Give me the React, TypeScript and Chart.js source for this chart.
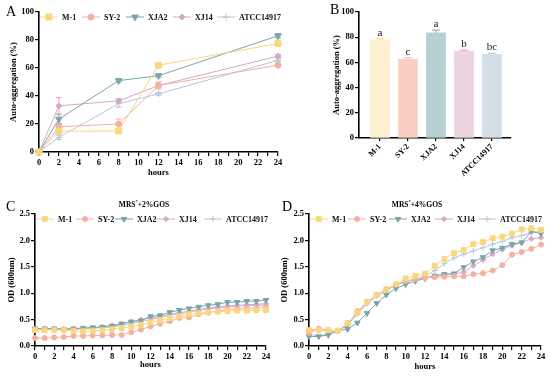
import React, { useEffect, useRef } from 'react';
import { Chart, registerables } from 'chart.js';
import { drawPoint } from 'chart.js/helpers';

Chart.register(...registerables);

const FONT = '"Liberation Serif", "Times New Roman", serif';

// ---------- data ----------
const SERIES = ['M-1', 'SY-2', 'XJA2', 'XJ14', 'ATCC14917'];
const COLORS = ['#F9D77E', '#F2B1A1', '#78A6AC', '#D9A7C5', '#B6C8DA'];
const BAR_COLORS = ['#FDF0D0', '#F7CEC1', '#B7D0D2', '#ECD3E0', '#D4DEE7'];
const POINT_STYLES = ['rect', 'circle', 'triangle', 'rectRot', 'cross'];
const POINT_ROT = [0, 0, 180, 0, 0];

// Panel A: auto-aggregation over time
const hoursA = [0, 2, 8, 12, 24];
const aggM1 = [0, 14.8, 15, 62, 77.5];
const aggSY2 = [0, 18, 20, 47.5, 62];
const aggXJA2 = [0, 23.5, 51, 54.5, 83];
const aggXJ14 = [0, 33, 36.5, 47.5, 68.5];
const aggATCC = [0, 10.5, 34.5, 41.5, 65.5];
const errM1 = [0, 1.5, 1, 1, 1];
const errSY2 = [0, 2, 3.5, 2.5, 1];
const errXJA2 = [0, 3.5, 1, 1, 1.5];
const errXJ14 = [0, 6, 1.5, 1.5, 1];
const errATCC = [0, 1.5, 2.5, 1, 1];
const yTicksA = [0, 20, 40, 60, 80, 100];

// Panel B: auto-aggregation at 24 h
const barValues = [78, 62.5, 83.5, 69, 66.5];
const barErrors = [0.8, 1.2, 2.2, 0.8, 0.8];
const barLetters = ['a', 'c', 'a', 'b', 'bc'];

// Panels C & D: growth curves
const hoursCD = [0, 1, 2, 3, 4, 5, 6, 7, 8, 9, 10, 11, 12, 13, 14, 15, 16, 17, 18, 19, 20, 21, 22, 23, 24];
const odC_M1 = [0.30, 0.30, 0.30, 0.30, 0.29, 0.28, 0.29, 0.30, 0.32, 0.34, 0.37, 0.40, 0.45, 0.49, 0.53, 0.56, 0.60, 0.62, 0.64, 0.65, 0.66, 0.67, 0.67, 0.68, 0.68];
const odC_SY2 = [0.15, 0.15, 0.16, 0.17, 0.19, 0.19, 0.20, 0.20, 0.21, 0.21, 0.26, 0.31, 0.37, 0.42, 0.47, 0.53, 0.54, 0.60, 0.63, 0.66, 0.69, 0.70, 0.71, 0.72, 0.73];
const odC_XJA2 = [0.33, 0.33, 0.33, 0.32, 0.33, 0.34, 0.35, 0.36, 0.38, 0.42, 0.46, 0.48, 0.56, 0.58, 0.64, 0.68, 0.71, 0.74, 0.77, 0.79, 0.83, 0.83, 0.85, 0.85, 0.87];
const odC_XJ14 = [0.32, 0.32, 0.32, 0.32, 0.32, 0.33, 0.34, 0.36, 0.39, 0.42, 0.46, 0.50, 0.53, 0.56, 0.60, 0.63, 0.66, 0.69, 0.72, 0.74, 0.76, 0.77, 0.78, 0.79, 0.80];
const odC_ATCC = [0.33, 0.33, 0.32, 0.32, 0.32, 0.33, 0.34, 0.35, 0.36, 0.39, 0.42, 0.46, 0.50, 0.54, 0.58, 0.61, 0.64, 0.67, 0.70, 0.72, 0.74, 0.75, 0.76, 0.77, 0.77];

const odD_M1 = [0.30, 0.30, 0.30, 0.29, 0.44, 0.63, 0.83, 0.97, 1.08, 1.17, 1.28, 1.33, 1.37, 1.52, 1.65, 1.76, 1.82, 1.93, 1.97, 2.04, 2.07, 2.13, 2.21, 2.23, 2.20];
const odD_SY2 = [0.24, 0.33, 0.30, 0.29, 0.42, 0.66, 0.84, 0.96, 1.07, 1.16, 1.23, 1.27, 1.29, 1.30, 1.31, 1.32, 1.32, 1.36, 1.38, 1.43, 1.53, 1.73, 1.78, 1.84, 1.92];
const odD_XJA2 = [0.18, 0.18, 0.21, 0.29, 0.32, 0.44, 0.62, 0.81, 0.97, 1.09, 1.17, 1.23, 1.28, 1.33, 1.36, 1.37, 1.49, 1.60, 1.68, 1.81, 1.86, 1.93, 1.96, 2.17, 2.13];
const odD_XJ14 = [0.30, 0.32, 0.27, 0.29, 0.40, 0.62, 0.82, 0.96, 1.07, 1.15, 1.22, 1.26, 1.29, 1.32, 1.34, 1.36, 1.40, 1.52, 1.63, 1.74, 1.83, 1.90, 1.96, 2.03, 2.05];
const odD_ATCC = [0.21, 0.20, 0.22, 0.29, 0.40, 0.60, 0.80, 0.94, 1.06, 1.15, 1.22, 1.27, 1.32, 1.43, 1.56, 1.67, 1.74, 1.80, 1.86, 1.93, 1.98, 2.05, 2.09, 2.15, 2.18];

const TITLE_C = ['MRS', '*', '+2%GOS'];
const TITLE_D = ['MRS', '*', '+4%GOS'];

// ---------- plugins ----------
const lineLegend = {
  id: 'lineLegend',
  afterDraw(chart: any, _a: any, opts: any) {
    if (!opts || !opts.xs) return;
    const ctx = chart.ctx;
    ctx.save();
    chart.data.datasets.forEach((ds: any, i: number) => {
      const mx = opts.xs[i];
      const y = opts.y;
      ctx.strokeStyle = ds.borderColor;
      ctx.lineWidth = 1;
      ctx.beginPath();
      ctx.moveTo(mx - 9, y);
      ctx.lineTo(mx + 9, y);
      ctx.stroke();
      ctx.fillStyle = ds.pointBackgroundColor;
      ctx.strokeStyle = ds.pointBorderColor;
      ctx.lineWidth = 1;
      drawPoint(ctx, { pointStyle: ds.pointStyle, rotation: ds.pointRotation || 0, radius: ds.pointRadius, borderWidth: 1 } as any, mx, y);
      ctx.font = `bold ${opts.size}px ${FONT}`;
      ctx.textBaseline = 'middle';
      ctx.textAlign = 'left';
      ctx.fillStyle = '#111';
      ctx.fillText(ds.label, mx + 13, y + 0.5);
    });
    ctx.restore();
  },
};

const errorBars = {
  id: 'errorBars',
  beforeDatasetsDraw(chart: any, _a: any, opts: any) {
    if (!opts || !opts.errors) return;
    const ys = chart.scales.y;
    const ctx = chart.ctx;
    ctx.save();
    chart.data.datasets.forEach((ds: any, i: number) => {
      const errs = opts.errors[i];
      if (!errs) return;
      const meta = chart.getDatasetMeta(i);
      ctx.strokeStyle = ds.borderColor;
      ctx.lineWidth = 1;
      meta.data.forEach((pt: any, j: number) => {
        const e = errs[j];
        if (!e) return;
        const d = ds.data[j];
        const v = typeof d === 'number' ? d : d.y;
        const top = ys.getPixelForValue(v + e);
        const bot = ys.getPixelForValue(v - e);
        ctx.beginPath();
        ctx.moveTo(pt.x, top);
        ctx.lineTo(pt.x, bot);
        ctx.moveTo(pt.x - 3, top);
        ctx.lineTo(pt.x + 3, top);
        ctx.moveTo(pt.x - 3, bot);
        ctx.lineTo(pt.x + 3, bot);
        ctx.stroke();
      });
    });
    ctx.restore();
  },
};

const panelText = {
  id: 'panelText',
  afterDraw(chart: any, _a: any, opts: any) {
    if (!opts) return;
    const ctx = chart.ctx;
    ctx.save();
    ctx.fillStyle = '#000';
    ctx.textAlign = 'left';
    ctx.textBaseline = 'alphabetic';
    if (opts.letter) {
      ctx.font = `14px ${FONT}`;
      ctx.fillText(opts.letter, opts.lx, opts.ly);
    }
    if (opts.title) {
      const [a, sup, b] = opts.title;
      const big = `bold ${opts.ts}px ${FONT}`;
      const small = `bold ${opts.ts * 0.6}px ${FONT}`;
      ctx.font = big;
      const wa = ctx.measureText(a).width;
      const wb = ctx.measureText(b).width;
      ctx.font = small;
      const ws = ctx.measureText(sup).width;
      const start = opts.tx - (wa + ws + wb) / 2;
      ctx.font = big;
      ctx.fillText(a, start, opts.ty);
      ctx.fillText(b, start + wa + ws, opts.ty);
      ctx.font = small;
      ctx.fillText(sup, start + wa, opts.ty - 4);
    }
    ctx.restore();
  },
};

const barExtras = {
  id: 'barExtras',
  afterDatasetsDraw(chart: any, _a: any, opts: any) {
    if (!opts || !opts.errors) return;
    const meta = chart.getDatasetMeta(0);
    const ys = chart.scales.y;
    const ctx = chart.ctx;
    ctx.save();
    meta.data.forEach((bar: any, j: number) => {
      const v = opts.values[j];
      const e = opts.errors[j];
      const top = ys.getPixelForValue(v + e);
      ctx.strokeStyle = opts.errColors[j];
      ctx.lineWidth = 1;
      ctx.beginPath();
      ctx.moveTo(bar.x, bar.y);
      ctx.lineTo(bar.x, top);
      ctx.moveTo(bar.x - 4, top);
      ctx.lineTo(bar.x + 4, top);
      ctx.stroke();
      ctx.fillStyle = '#222';
      ctx.font = `11px ${FONT}`;
      ctx.textAlign = 'center';
      ctx.textBaseline = 'alphabetic';
      ctx.fillText(opts.letters[j], bar.x, top - 3);
    });
    ctx.restore();
  },
};

// ---------- helpers ----------
const tickFont = { family: FONT, size: 8.5, weight: 'bold' as const };
const titleFont = { family: FONT, size: 8.5, weight: 'bold' as const };

function lineDS(i: number, xs: number[], ys: number[], sizes: number[]) {
  return {
    label: SERIES[i],
    data: xs.map((x, k) => ({ x, y: ys[k] })),
    borderColor: COLORS[i],
    backgroundColor: COLORS[i],
    pointBackgroundColor: COLORS[i],
    pointBorderColor: COLORS[i],
    pointStyle: POINT_STYLES[i],
    pointRotation: POINT_ROT[i],
    pointRadius: sizes[i],
    pointBorderWidth: 1,
    borderWidth: 1,
    tension: 0,
    clip: false as any,
  };
}

function lineScales(o: any) {
  return {
    x: {
      type: 'linear' as const,
      min: 0,
      max: 24,
      offset: false,
      ticks: {
        stepSize: 1,
        autoSkip: false,
        maxRotation: 0,
        padding: 2,
        color: '#000',
        font: tickFont,
        callback: (v: any) => (Number(v) % 2 === 0 ? String(v) : ''),
      },
      grid: { drawOnChartArea: false, drawTicks: true, tickLength: 4, color: '#000', lineWidth: 1.2 },
      border: { color: '#000', width: 1.6 },
      title: { display: true, text: 'hours', color: '#000', font: titleFont, padding: { top: 0, bottom: o.xTitlePad } },
      afterFit: (s: any) => {
        s.height = o.xH;
        s.paddingLeft = 0;
        s.paddingRight = 0;
      },
    },
    y: {
      type: 'linear' as const,
      min: 0,
      max: o.yMax,
      ticks: {
        stepSize: o.yStep,
        padding: 1,
        color: '#000',
        font: tickFont,
        callback: (v: any) => Number(v).toFixed(o.yDec),
      },
      grid: { drawOnChartArea: false, drawTicks: true, tickLength: 4, color: '#000', lineWidth: 1.2 },
      border: { color: '#000', width: 1.6 },
      title: { display: true, text: o.yTitle, color: '#000', font: titleFont, padding: { top: o.yTitlePad, bottom: 0 } },
      afterFit: (s: any) => {
        s.width = o.yW;
        s.paddingTop = 0;
        s.paddingBottom = 0;
      },
    },
  };
}

const SIZES_A = [4.2, 3, 3.8, 3, 3.5];
const SIZES_CD = [3.4, 2.5, 3.2, 2.6, 3];

function makeA(): any {
  const ys = [aggM1, aggSY2, aggXJA2, aggXJ14, aggATCC];
  return {
    type: 'line',
    data: { datasets: ys.map((v, i) => lineDS(i, hoursA, v, SIZES_A)) },
    plugins: [errorBars, lineLegend, panelText],
    options: {
      animation: false,
      responsive: false,
      devicePixelRatio: 1,
      layout: { padding: { left: 0, right: 14, top: 12, bottom: 0 } },
      scales: lineScales({ yMax: 100, yStep: 20, yDec: 0, yTitle: 'Auto-aggregation (%)', yW: 39, yTitlePad: 9, xH: 38, xTitlePad: 12 }),
      plugins: {
        legend: { display: false },
        tooltip: { enabled: false },
        errorBars: { errors: [errM1, errSY2, errXJA2, errXJ14, errATCC] },
        lineLegend: { xs: [49, 91, 135, 182, 226], y: 17, size: 8 },
        panelText: { letter: 'A', lx: 6, ly: 16 },
      },
    },
  };
}

function makeB(): any {
  return {
    type: 'bar',
    data: {
      datasets: [
        {
          data: barValues.map((v, i) => ({ x: i, y: v })),
          backgroundColor: BAR_COLORS,
          borderWidth: 0,
          barThickness: 19,
        },
      ],
    },
    plugins: [barExtras, panelText],
    options: {
      animation: false,
      responsive: false,
      devicePixelRatio: 1,
      layout: { padding: { left: 0, right: 39, top: 12, bottom: 0 } },
      scales: {
        x: {
          type: 'linear',
          min: -0.75,
          max: 4.68,
          offset: false,
          afterBuildTicks: (s: any) => {
            s.ticks = SERIES.map((_, i) => ({ value: i }));
          },
          ticks: {
            autoSkip: false,
            minRotation: 45,
            maxRotation: 45,
            padding: 1,
            color: '#000',
            font: { family: FONT, size: 8, weight: 'bold' },
            callback: (v: any) => SERIES[Number(v)] ?? '',
          },
          grid: { drawOnChartArea: false, drawTicks: true, tickLength: 3, color: '#000', lineWidth: 1.2, offset: false },
          border: { color: '#000', width: 1.6 },
          afterFit: (s: any) => {
            s.height = 52;
            s.paddingLeft = 0;
            s.paddingRight = 0;
          },
        },
        y: {
          min: 0,
          max: 100,
          ticks: { stepSize: 20, padding: 1, color: '#000', font: tickFont },
          grid: { drawOnChartArea: false, drawTicks: true, tickLength: 4, color: '#000', lineWidth: 1.2 },
          border: { color: '#000', width: 1.6 },
          title: { display: true, text: 'Auto-aggregation (%)', color: '#000', font: titleFont, padding: { top: 12, bottom: 0 } },
          afterFit: (s: any) => {
            s.width = 39;
            s.paddingTop = 0;
            s.paddingBottom = 0;
          },
        },
      },
      plugins: {
        legend: { display: false },
        tooltip: { enabled: false },
        barExtras: { values: barValues, errors: barErrors, letters: barLetters, errColors: COLORS },
        panelText: { letter: 'B', lx: 10, ly: 14 },
      },
    },
  };
}

function makeGrowth(ys: number[][], title: string[], letter: string, g: any): any {
  return {
    type: 'line',
    data: { datasets: ys.map((v, i) => lineDS(i, hoursCD, v, SIZES_CD)) },
    plugins: [lineLegend, panelText],
    options: {
      animation: false,
      responsive: false,
      devicePixelRatio: 1,
      layout: { padding: { left: 0, right: g.padR, top: 24, bottom: 0 } },
      scales: lineScales({ yMax: 2.5, yStep: 0.5, yDec: 1, yTitle: 'OD (600nm)', yW: g.yW, yTitlePad: g.yTitlePad, xH: 33, xTitlePad: g.xTitlePad }),
      plugins: {
        legend: { display: false },
        tooltip: { enabled: false },
        lineLegend: { xs: g.legendXs, y: 29, size: 8 },
        panelText: { letter, lx: g.lx, ly: 21, title, tx: g.tx, ty: 17, ts: 7.5 },
      },
    },
  };
}

function makeC() {
  return makeGrowth([odC_M1, odC_SY2, odC_XJA2, odC_XJ14, odC_ATCC], TITLE_C, 'C', {
    padR: 14, yW: 35, yTitlePad: 7, xTitlePad: 9, legendXs: [45, 85, 124, 166, 213], lx: 6, tx: 144,
  });
}

function makeD() {
  return makeGrowth([odD_M1, odD_SY2, odD_XJA2, odD_XJ14, odD_ATCC], TITLE_D, 'D', {
    padR: 9, yW: 34, yTitlePad: 5, xTitlePad: 7, legendXs: [44, 82, 123, 169, 212], lx: 7, tx: 142,
  });
}

function ChartBox(props: { left: number; top: number; width: number; height: number; make: () => any }) {
  const ref = useRef<HTMLCanvasElement>(null);
  useEffect(() => {
    const chart = new Chart(ref.current as HTMLCanvasElement, props.make());
    return () => chart.destroy();
  }, []);
  return (
    <canvas
      ref={ref}
      width={props.width}
      height={props.height}
      style={{ position: 'absolute', left: props.left, top: props.top, width: props.width, height: props.height }}
    />
  );
}

export default function App() {
  return (
    <div style={{ position: 'absolute', left: 0, top: 0, width: 550, height: 379, background: '#fff', overflow: 'hidden' }}>
      <ChartBox left={0} top={0} width={292} height={190} make={makeA} />
      <ChartBox left={320} top={0} width={230} height={190} make={makeB} />
      <ChartBox left={0} top={190} width={280} height={189} make={makeC} />
      <ChartBox left={275} top={190} width={275} height={189} make={makeD} />
    </div>
  );
}
